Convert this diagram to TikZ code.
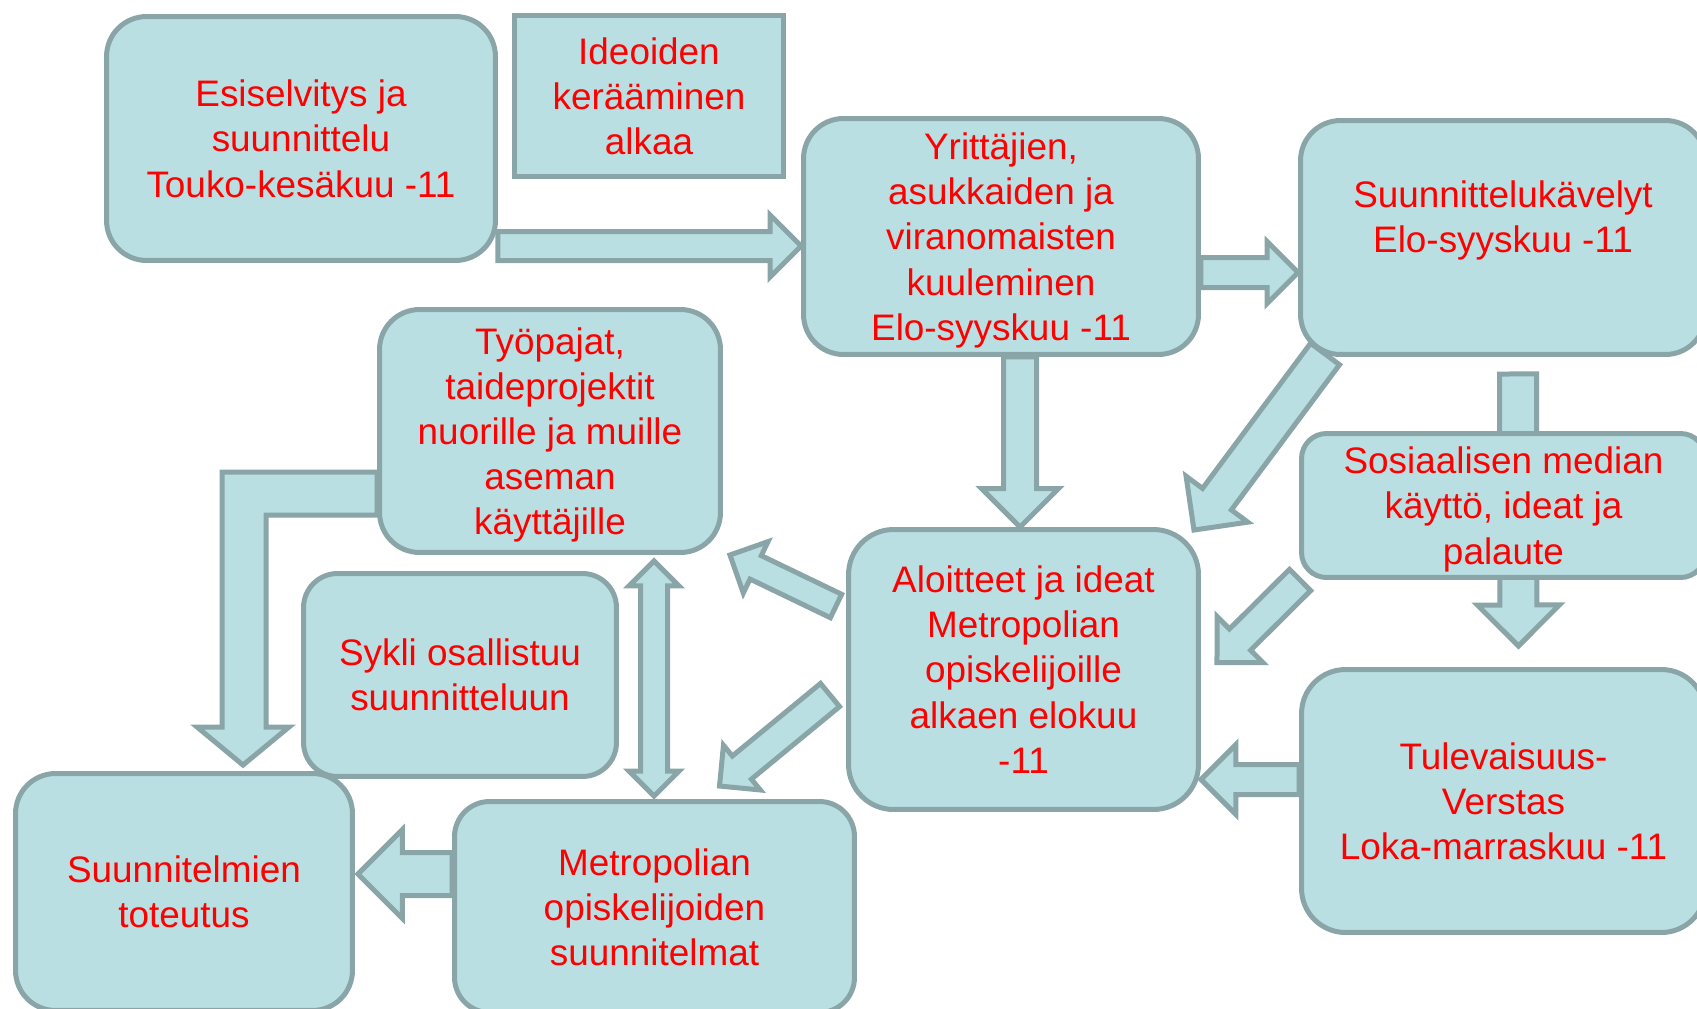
\documentclass[tikz,border=0pt]{standalone}
\usepackage{fontspec}
\setmainfont{Liberation Sans}
\usetikzlibrary{calc,backgrounds}

\definecolor{boxfill}{RGB}{186,223,226}
\definecolor{boxline}{RGB}{138,165,168}
\definecolor{boxtext}{RGB}{255,0,0}

\tikzset{
  txt/.style={text=boxtext, font=\fontsize{21}{25.7}\selectfont, align=center, text depth=-2.3pt},
  box/.style={txt, draw=boxline, fill=boxfill, line width=0.1cm, rounded corners=0.8cm, inner sep=0pt},
  arrshaft/.store in=\arrshaft, arrhead/.store in=\arrhead,
  arrshaft=0.3cm, arrhead=0.6cm,
  arrowbody/.style={draw=boxline, fill=boxfill, line width=0.1cm},
  blockarrow/.style={arrowbody,
    to path={
      ($(\tikztostart)!\arrshaft!90:(\tikztotarget)$)
      -- ($($(\tikztotarget)!\arrhead!(\tikztostart)$)!\arrshaft!90:(\tikztotarget)$)
      -- ($($(\tikztotarget)!\arrhead!(\tikztostart)$)!\arrhead!90:(\tikztotarget)$)
      -- (\tikztotarget)
      -- ($($(\tikztotarget)!\arrhead!(\tikztostart)$)!\arrhead!-90:(\tikztotarget)$)
      -- ($($(\tikztotarget)!\arrhead!(\tikztostart)$)!\arrshaft!-90:(\tikztotarget)$)
      -- ($(\tikztostart)!\arrshaft!-90:(\tikztotarget)$)
      -- cycle}},
  dblarrow/.style={arrowbody,
    to path={
      (\tikztostart)
      -- ($($(\tikztostart)!\arrhead!(\tikztotarget)$)!\arrhead!90:(\tikztotarget)$)
      -- ($($(\tikztostart)!\arrhead!(\tikztotarget)$)!\arrshaft!90:(\tikztotarget)$)
      -- ($($(\tikztotarget)!\arrhead!(\tikztostart)$)!\arrshaft!90:(\tikztotarget)$)
      -- ($($(\tikztotarget)!\arrhead!(\tikztostart)$)!\arrhead!90:(\tikztotarget)$)
      -- (\tikztotarget)
      -- ($($(\tikztotarget)!\arrhead!(\tikztostart)$)!\arrhead!-90:(\tikztotarget)$)
      -- ($($(\tikztotarget)!\arrhead!(\tikztostart)$)!\arrshaft!-90:(\tikztotarget)$)
      -- ($($(\tikztostart)!\arrhead!(\tikztotarget)$)!\arrshaft!-90:(\tikztotarget)$)
      -- ($($(\tikztostart)!\arrhead!(\tikztotarget)$)!\arrhead!-90:(\tikztotarget)$)
      -- cycle}},
}

\begin{document}
\begin{tikzpicture}[x=0.02cm, y=-0.02cm]
    \useasboundingbox (0,0) rectangle (1697,1008);
    \clip (0,0) rectangle (1697,1008);

    % Boxes
    \node[box, minimum width=7.78cm, minimum height=4.88cm] (esi) at (301,138.5) {Esiselvitys ja\\suunnittelu\\Touko-kesäkuu -11};
    \node[box, sharp corners, minimum width=5.38cm, minimum height=3.22cm] (ideat) at (649,96) {Ideoiden\\kerääminen\\alkaa};
    \node[box, minimum width=7.9cm, minimum height=4.72cm] (kuul) at (1001,236.5) {Yrittäjien,\\asukkaiden ja\\viranomaisten\\kuuleminen\\Elo-syyskuu -11};
    \node[box, minimum width=8.1cm, minimum height=4.68cm,
          label={[txt, yshift=0.41cm]center:{Suunnittelukävelyt\\Elo-syyskuu -11}}] (kav) at (1503,237.5) {};
    \node[box, rounded corners=0.5cm, minimum width=8.08cm, minimum height=2.88cm] (some) at (1503.5,505.5) {Sosiaalisen median\\käyttö, ideat ja\\palaute};
    \node[box, rounded corners=0.88cm, minimum width=8.08cm, minimum height=5.26cm] (tul) at (1503.5,801) {Tulevaisuus-\\Verstas\\Loka-marraskuu -11};
    \node[box, rounded corners=0.9cm, minimum width=7cm, minimum height=5.6cm] (aloit) at (1023.5,669.5) {Aloitteet ja ideat\\Metropolian\\opiskelijoille\\alkaen elokuu\\-11};
    \node[box, minimum width=6.82cm, minimum height=4.86cm] (tyop) at (550,431) {Työpajat,\\taideprojektit\\nuorille ja muille\\aseman\\käyttäjille};
    \node[box, minimum width=6.74cm, minimum height=4.74cm] (tot) at (184,892) {Suunnitelmien\\toteutus};
    \node[box, rounded corners=0.68cm, minimum width=6.26cm, minimum height=4.06cm] (sykli) at (460,675) {Sykli osallistuu\\suunnitteluun};
    \node[box, rounded corners=0.7cm, minimum width=8cm, minimum height=4.22cm] (suun) at (654.5,907) {Metropolian\\opiskelijoiden\\suunnitelmat};

    % Arrow ends
    \coordinate (a1) at ($(esi.east)+(0,107.5)$);
    \coordinate (c1) at ($(kuul.east)+(0,36)$);
    \coordinate (c2) at ($(kuul.south)+(19,0)$);
    \coordinate (d1) at ($(kav.south west)+(27,-3)$);
    \coordinate (d2) at ($(aloit.north east)+(-7,3)$);
    \coordinate (e1) at ($(some.south west)+(1,0)$);
    \coordinate (e2) at ($(aloit.east)+(16,-7)$);
    \coordinate (f1) at ($(tul.west)+(0,-21.5)$);
    \coordinate (k1) at ($(kav.south)+(15,17)$);
    \coordinate (k2) at ($(some.south)+(15,66)$);
    \coordinate (g1) at ($(aloit.west)+(-10,-63.5)$);
    \coordinate (g2) at ($(tyop.south east)+(7,0)$);
    \coordinate (g3) at ($(aloit.west)+(-16,25.5)$);
    \coordinate (g4) at ($(suun.north)+(65,-13)$);
    \coordinate (h1) at ($(tyop.south)+(104,6)$);
    \coordinate (h2) at ($(h1 |- suun.north)+(0,-3)$);
    \coordinate (s1) at ($(suun.west)+(0,-33)$);
    \coordinate (t1) at ($(tot.north)+(59,-6)$);

    % Arrow behind the social media box
    \begin{scope}[on background layer]
        \draw[blockarrow, arrshaft=0.37cm, arrhead=0.82cm] (k1) to (k2);
    \end{scope}

    % Arrows
    \draw[blockarrow, arrshaft=0.29cm, arrhead=0.62cm] (a1) to (kuul.west |- a1);
    \draw[blockarrow, arrshaft=0.30cm, arrhead=0.62cm] (c1) to (kav.west |- c1);
    \draw[blockarrow, arrshaft=0.33cm, arrhead=0.77cm] (c2) to (c2 |- aloit.north);
    \draw[blockarrow, arrshaft=0.36cm, arrhead=0.77cm] (d1) to (d2);
    \draw[blockarrow, arrshaft=0.30cm, arrhead=0.65cm] (e1) to (e2);
    \draw[blockarrow, arrshaft=0.30cm, arrhead=0.70cm] (f1) to (aloit.east |- f1);
    \draw[blockarrow, arrshaft=0.26cm, arrhead=0.57cm] (g1) to (g2);
    \draw[blockarrow, arrshaft=0.30cm, arrhead=0.58cm] (g3) to (g4);
    \draw[dblarrow, arrshaft=0.27cm, arrhead=0.50cm] (h1) to (h2);
    \draw[blockarrow, arrshaft=0.43cm, arrhead=0.89cm] (s1) to ($(tot.east |- s1)+(3,0)$);

    % Bent arrow from the workshops down to the realisation
    \draw[arrowbody] ($(tyop.west)+(0,41)$) -- ++(-155,0) -- ++(0,255) -- ++(-25,0)
        -- (t1) -- ++(46,-38) -- ++(-23,0) -- ++(0,-212) -- ($(tyop.west)+(0,84)$) -- cycle;
\end{tikzpicture}
\end{document}
